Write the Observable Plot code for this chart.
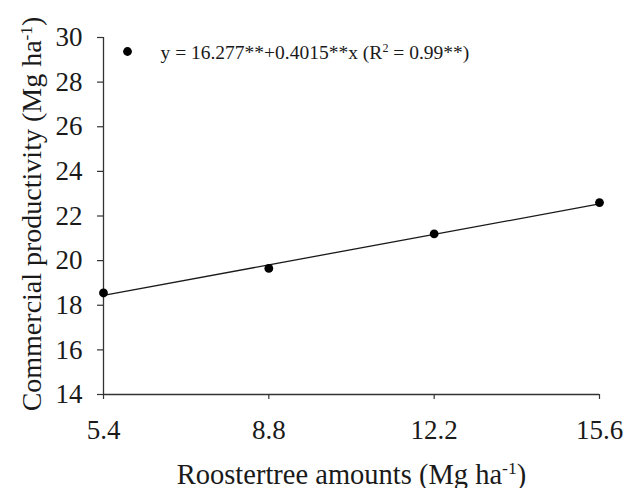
<!DOCTYPE html>
<html>
<head>
<meta charset="utf-8">
<script src="https://cdn.jsdelivr.net/npm/d3@7"></script>
<script src="https://cdn.jsdelivr.net/npm/@observablehq/plot@0.6"></script>
<style>
  html, body { margin: 0; padding: 0; background: #fff; }
  #chart svg { display: block; overflow: visible; }
</style>
</head>
<body>
<div id="chart"></div>
<script>
// Data
const amounts = [5.4, 8.8, 12.2, 15.6];             // Roostertree amounts (Mg ha-1)
const productivity = [18.55, 19.65, 21.2, 22.6];     // Commercial productivity (Mg ha-1)
const intercept = 16.277;                            // fitted equation y = a + b x
const slope = 0.4015;
const yTicks = [14, 16, 18, 20, 22, 24, 26, 28, 30];
const xTicks = [5.4, 8.8, 12.2, 15.6];
const xLabel = "Roostertree amounts (Mg ha⁻¹)";
const yLabel = "Commercial productivity (Mg ha⁻¹)";
const legendLabel = "y = 16.277**+0.4015**x (R² = 0.99**)";

const points = amounts.map((x, i) => ({x, y: productivity[i]}));
const fit = amounts.map(x => ({x, y: intercept + slope * x}));

const FONT = "'Liberation Serif', 'Times New Roman', Times, serif";
const INK = "#1a1a1a";

const chart = Plot.plot({
  width: 626,
  height: 488,
  marginLeft: 103,
  marginRight: 27,
  marginTop: 37,
  marginBottom: 94,
  style: {fontFamily: FONT, color: INK, background: "#fff"},
  x: {domain: [5.4, 15.6]},
  y: {domain: [14, 30]},
  marks: [
    Plot.ruleY([14], {stroke: "#333", strokeWidth: 1.3}),
    Plot.ruleX([5.4], {stroke: "#333", strokeWidth: 1.3}),
    Plot.axisX({ticks: xTicks, tickFormat: d => d.toFixed(1), tickSize: 5, tickPadding: 20,
      fontSize: 27, stroke: "#333", strokeWidth: 1.2, label: null}),
    Plot.axisY({ticks: yTicks, tickSize: 6, tickPadding: 15, fontSize: 27,
      stroke: "#333", strokeWidth: 1.2, label: null}),
    Plot.line(fit, {x: "x", y: "y", stroke: INK, strokeWidth: 1.3}),
    Plot.dot(points, {x: "x", y: "y", r: 4.4, fill: "#000", stroke: "none"}),
    // legend
    Plot.dot([legendLabel], {frameAnchor: "top-left", dx: 24, dy: 14, r: 4.4, fill: "#000", stroke: "none"}),
    Plot.text([legendLabel], {frameAnchor: "top-left", dx: 57, dy: 21.5, textAnchor: "start",
      lineAnchor: "bottom", fontSize: 19.5, fill: INK}),
    // axis titles
    Plot.text([xLabel], {frameAnchor: "bottom", dy: 89, textAnchor: "middle", lineAnchor: "bottom",
      fontSize: 28.5, fill: INK}),
    Plot.text([yLabel], {frameAnchor: "left", dx: -63, dy: -2, rotate: -90, textAnchor: "middle",
      lineAnchor: "bottom", fontSize: 28, fill: INK})
  ]
});

// superscripts as real tspans
const SUP = /([⁻¹²]+)/;
chart.querySelectorAll("text").forEach(t => {
  const s = t.textContent;
  if (!SUP.test(s)) return;
  t.textContent = "";
  for (const p of s.split(SUP)) {
    if (!p) continue;
    const ts = document.createElementNS("http://www.w3.org/2000/svg", "tspan");
    if (SUP.test(p)) {
      ts.textContent = p.replace("⁻", "-").replace("¹", "1").replace("²", "2");
      ts.setAttribute("font-size", "62%");
      ts.setAttribute("baseline-shift", "super");
    } else {
      ts.textContent = p;
    }
    t.appendChild(ts);
  }
});

document.getElementById("chart").appendChild(chart);
</script>
</body>
</html>
